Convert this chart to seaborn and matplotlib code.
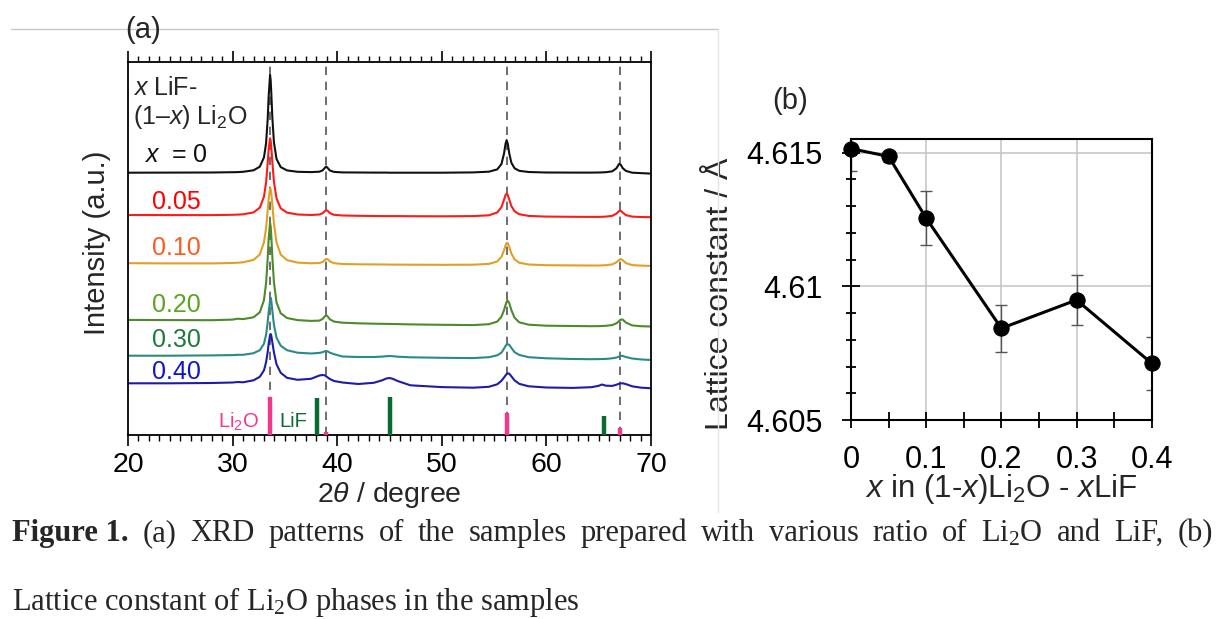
import numpy as np
import pandas as pd
import seaborn as sns
import matplotlib.pyplot as plt
from matplotlib.lines import Line2D
from matplotlib.ticker import MultipleLocator, FixedLocator, NullLocator

# ---- (a) XRD patterns (intensity above each pattern's own baseline, a.u.) ----
TTH = [20, 24, 28, 30, 30.5, 31, 32, 32.6, 33.0, 33.2, 33.35, 33.45, 33.58, 33.64,
       33.7, 33.8, 33.95, 34.2, 34.6, 35.2, 36.2, 37.5, 38.3, 38.6, 38.8, 38.95,
       39.1, 39.3, 39.7, 40.5, 42, 43.5, 44.3, 44.7, 45.0, 45.3, 45.8, 47, 50, 53,
       54.5, 55.3, 55.7, 55.95, 56.1, 56.2, 56.3, 56.45, 56.65, 56.95, 57.4, 58.3,
       60, 62.5, 64.3, 65.0, 65.3, 65.7, 66.3, 66.7, 66.95, 67.1, 67.3, 67.6, 68.2,
       69, 70]

XRD_000 = [0.0, 0.1, 0.2, 0.5, 0.6, 0.9, 2.4, 6.0, 15.3, 29.5,
           52.9, 76.9, 97.7, 92.4, 79.4, 55.1, 30.6, 13.7, 5.6, 2.3,
           0.9, 0.6, 1.0, 2.3, 4.6, 6.2, 4.6, 2.2, 0.8, 0.3,
           0.2, 0.1, 0.1, 0.1, 0.0, 0.0, 0.0, 0.0, 0.0, 0.3,
           1.0, 3.3, 8.6, 19.2, 29.3, 32.6, 29.3, 19.2, 10.0, 4.5,
           1.9, 0.7, 0.2, 0.1, 0.1, 0.2, 0.3, 0.5, 1.4, 4.5,
           8.8, 8.1, 4.5, 1.8, 0.0, -0.4, -0.9]
XRD_005 = [0.0, -0.1, -0.1, 0.2, 0.4, 0.7, 2.6, 7.3, 18.3, 32.6,
           51.4, 66.3, 76.7, 74.2, 67.7, 52.9, 33.6, 16.5, 6.6, 2.4,
           0.5, 0.0, 0.5, 1.7, 3.7, 4.9, 4.0, 1.9, 0.2, -0.5,
           -0.8, -1.0, -1.1, -1.1, -1.1, -1.1, -1.1, -1.2, -1.3, -1.1,
           -0.3, 2.5, 7.9, 15.3, 20.1, 21.3, 20.1, 15.3, 9.0, 3.8,
           0.8, -0.9, -1.6, -1.8, -1.9, -1.9, -1.8, -1.6, -0.8, 1.4,
           4.0, 4.3, 2.4, -0.1, -1.6, -2.0, -2.2]
XRD_010 = [0.1, -0.1, -0.1, 0.3, 0.6, 1.0, 3.4, 8.8, 21.0, 35.2,
           52.1, 64.8, 74.8, 74.2, 70.1, 58.6, 40.3, 20.9, 8.7, 3.2,
           0.7, 0.0, 0.3, 1.3, 3.0, 4.4, 4.0, 1.9, 0.1, -0.7,
           -1.0, -1.1, -1.2, -1.2, -1.3, -1.3, -1.3, -1.4, -1.5, -1.4,
           -0.6, 1.8, 6.4, 13.0, 18.1, 20.3, 20.2, 16.3, 9.8, 4.0,
           0.6, -1.2, -1.9, -2.1, -2.2, -2.2, -2.1, -1.9, -1.1, 1.0,
           3.4, 4.2, 3.0, 0.2, -1.8, -2.3, -2.6]
XRD_020 = [0.1, -0.1, -0.2, 0.4, 1.3, 0.9, 2.7, 7.7, 19.9, 36.8,
           60.9, 81.7, 97.2, 93.4, 83.7, 62.8, 38.0, 17.6, 6.7, 2.0,
           -0.1, -0.9, -0.6, 1.0, 3.5, 4.9, 3.4, 0.7, -1.6, -2.7,
           -3.3, -3.7, -3.8, -3.9, -4.0, -4.0, -4.1, -4.4, -4.8, -5.1,
           -4.2, -1.6, 3.3, 9.9, 15.2, 18.2, 19.4, 16.9, 9.9, 2.4,
           -2.3, -4.7, -5.7, -6.0, -6.2, -6.1, -6.0, -5.8, -5.0, -3.3,
           -1.0, 0.4, 0.4, -2.5, -5.4, -6.2, -6.5]
XRD_030 = [0.0, 0.0, 0.3, 0.6, 0.9, 0.9, 2.5, 5.5, 12.0, 21.0,
           33.0, 44.0, 55.0, 58.0, 55.0, 45.0, 31.0, 18.0, 10.0, 5.5,
           3.0, 2.2, 2.8, 3.5, 4.4, 4.7, 4.2, 3.0, 1.5, -0.8,
           -1.3, -1.3, -0.9, -0.5, -0.3, -0.5, -1.0, -1.6, -2.1, -2.4,
           -1.5, 0.4, 3.0, 7.2, 9.8, 11.2, 11.5, 10.8, 7.8, 3.6,
           0.8, -1.5, -2.6, -3.3, -3.5, -3.4, -3.3, -3.2, -2.6, -1.8,
           -0.9, -0.3, -0.2, -1.3, -2.8, -3.7, -4.3]
XRD_040 = [0.0, 0.0, 0.3, 0.8, 1.3, 1.0, 3.0, 6.5, 13.0, 21.0,
           31.0, 40.0, 48.0, 49.3, 47.5, 41.0, 31.0, 19.0, 10.5, 5.5,
           3.5, 4.5, 7.8, 8.3, 8.0, 7.0, 5.8, 4.3, 2.3, 0.8,
           -0.7, 0.5, 3.0, 4.8, 5.3, 4.5, 2.2, -2.0, -3.8, -4.4,
           -3.5, -1.0, 2.5, 5.8, 8.0, 9.3, 10.0, 9.6, 7.0, 3.0,
           -0.5, -3.0, -4.2, -4.6, -3.9, -2.5, -1.2, -2.4, -2.6, -1.4,
           -0.4, -0.1, 0.0, -0.8, -3.0, -4.3, -5.0]

SAMPLES = ["0", "0.05", "0.10", "0.20", "0.30", "0.40"]
PATTERNS = [XRD_000, XRD_005, XRD_010, XRD_020, XRD_030, XRD_040]

# reference patterns (stick positions / relative heights)
LI2O_POS = [33.6, 38.95, 56.2, 67.05]
LI2O_H = [38, 3.5, 22, 7.5]
LIF_POS = [38.05, 45.0, 65.5]
LIF_H = [37, 38.5, 19]
DASH_POS = [33.6, 38.95, 56.2, 67.0]

# ---- (b) lattice constant ----
X_FRAC = [0, 0.05, 0.1, 0.2, 0.3, 0.4]
LATTICE = [4.61515, 4.61486, 4.61255, 4.60843, 4.60949, 4.60712]
LATTICE_ERR = [0.00085, 0.0002, 0.00100, 0.00089, 0.00094, 0.00100]

CAPTION_1 = ["(a)", "XRD", "patterns", "of", "the", "samples", "prepared", "with",
             "various", "ratio", "of", r"Li$\mathregular{_2}$O", "and", "LiF,", "(b)"]
CAPTION_2 = r"Lattice constant of Li$\mathregular{_2}$O phases in the samples"

# layout / style
OFFSETS = [262.3, 220, 171.7, 115, 79.3, 51.7]
CURVE_COLORS = ["#111111", "#ff1a1a", "#e0a024", "#4c8a2a", "#2a8a86", "#1c1ca8"]
LABEL_COLORS = ["#111111", "#ff0000", "#ff5a1e", "#5aa51e", "#1e7a3c", "#1414c8"]
LABEL_Y = [280, 233.3, 186.7, 130, 95, 63.3]
PINK = "#f0388c"
DKGREEN = "#0a6b32"

sns.set_theme(style="ticks")
plt.rcParams['font.family'] = ['Liberation Sans', 'DejaVu Sans']
plt.rcParams['mathtext.fontset'] = 'custom'
plt.rcParams['mathtext.rm'] = 'Liberation Sans'
plt.rcParams['mathtext.it'] = 'Liberation Sans:italic'

W, H = 1218, 619
fig = plt.figure(figsize=(W / 100, H / 100), dpi=100)
fig.patch.set_facecolor('white')


def box(l, t, r, b):
    return [l / W, 1 - b / H, (r - l) / W, (b - t) / H]


# ================= panel (a) =================
ax = fig.add_axes(box(128, 62, 651, 435))
rows = []
for name, vals, off in zip(SAMPLES, PATTERNS, OFFSETS):
    for t, v in zip(TTH, vals):
        rows.append({"tth": t, "y": v + off, "sample": name})
df = pd.DataFrame(rows)

ax.vlines(DASH_POS, 0, 373, colors="#555555", linestyles=(0, (5, 4)),
          linewidth=1.2, zorder=1)
sns.lineplot(data=df, x="tth", y="y", hue="sample", hue_order=SAMPLES,
             palette=dict(zip(SAMPLES, CURVE_COLORS)), sort=False,
             estimator=None, legend=False, linewidth=1.5, ax=ax, zorder=2)
ax.vlines(LI2O_POS, 0, LI2O_H, colors=PINK, linewidth=3.2, zorder=3)
ax.vlines(LIF_POS, 0, LIF_H, colors=DKGREEN, linewidth=3.2, zorder=3)

ax.set_xlim(20, 70)
ax.set_ylim(0, 373)
ax.xaxis.set_major_locator(MultipleLocator(10))
ax.xaxis.set_minor_locator(MultipleLocator(1))
ax.yaxis.set_major_locator(NullLocator())
ax.tick_params(axis='x', which='both', direction='out', top=True,
               labeltop=False, colors='black', labelsize=20.5, pad=4)
ax.tick_params(axis='x', which='major', length=8, width=1.2)
ax.tick_params(axis='x', which='minor', length=4, width=1.0)
for s in ax.spines.values():
    s.set_color('black')
    s.set_linewidth(1.3)
ax.set_xlabel(r"2$\theta$ / degree", fontsize=20.5, labelpad=2)
ax.set_ylabel("Intensity (a.u.)", fontsize=21, labelpad=12)
ax.yaxis.label.set_y(0.515)

ax.text(20.48, 347, r"$x$ LiF-", fontsize=18, va='center', ha='left')
ax.text(20.48, 318, r"(1–$x$) Li$_2$O", fontsize=18, va='center', ha='left')
ax.text(21.5, LABEL_Y[0], r"$x$  = 0", fontsize=18, va='center', ha='left',
        color=LABEL_COLORS[0])
for lab, ly, c in zip(SAMPLES[1:], LABEL_Y[1:], LABEL_COLORS[1:]):
    ax.text(24.6, ly, lab, fontsize=18, va='center', ha='center', color=c)
ax.text(30.6, 13.3, r"Li$_2$O", fontsize=14.5, va='center', ha='center', color=PINK)
ax.text(35.85, 13.3, "LiF", fontsize=14.5, va='center', ha='center', color=DKGREEN)

# ================= panel (b) =================
bx = fig.add_axes(box(851, 139.3, 1151.7, 420))
bx.errorbar(X_FRAC, LATTICE, yerr=LATTICE_ERR, fmt='none', ecolor='#555555',
            elinewidth=1.0, capsize=4, capthick=1.0, zorder=2)
sns.lineplot(x=X_FRAC, y=LATTICE, color='black', marker='o', markersize=11,
             markeredgecolor='black', linewidth=2.2, ax=bx, zorder=3)
bx.lines[-1].set_clip_on(False)

bx.set_xlim(0, 0.4)
bx.set_ylim(4.605, 4.6155)
bx.xaxis.set_major_locator(FixedLocator([0, 0.1, 0.2, 0.3, 0.4]))
bx.set_xticklabels(["0", "0.1", "0.2", "0.3", "0.4"])
bx.xaxis.set_minor_locator(FixedLocator([0.05, 0.15, 0.25, 0.35]))
bx.yaxis.set_major_locator(FixedLocator([4.605, 4.61, 4.615]))
bx.set_yticklabels(["4.605", "4.61", "4.615"])
bx.yaxis.set_minor_locator(FixedLocator([4.606, 4.607, 4.608, 4.609,
                                         4.611, 4.612, 4.613, 4.614]))
bx.grid(True, which='major', color='#c4c4c4', linewidth=1.1)
bx.set_axisbelow(True)
bx.tick_params(axis='both', which='both', direction='inout', colors='black',
               labelsize=22, width=1.3)
bx.tick_params(axis='y', which='major', length=13, pad=14)
bx.tick_params(axis='y', which='minor', length=6.5)
bx.tick_params(axis='x', which='major', length=12, pad=12)
bx.tick_params(axis='x', which='minor', length=11)
for s in bx.spines.values():
    s.set_color('black')
    s.set_linewidth(1.5)
bx.set_xlabel(r"$x$ in (1-$x$)Li$_2$O - $x$LiF", fontsize=22.5, labelpad=-2)
bx.set_ylabel("Lattice constant / Å", fontsize=23, labelpad=8)
bx.yaxis.label.set_y(0.45)

# ================= labels, page lines, caption =================
fig.text(143 / W, 1 - 30 / H, "(a)", fontsize=21, ha='center', va='center')
fig.text(790 / W, 1 - 101 / H, "(b)", fontsize=21, ha='center', va='center')

fig.add_artist(Line2D([11 / W, 718 / W], [1 - 29 / H, 1 - 29 / H],
                      color='#c8c8c8', linewidth=1.0))
fig.add_artist(Line2D([718 / W, 718 / W], [1 - 29 / H, 1 - 512 / H],
                      color='#e4e4e4', linewidth=1.0))

serif = ['Liberation Serif', 'DejaVu Serif']
cap_fs = 22
renderer = fig.canvas.get_renderer()
head = fig.text(12 / W, 1 - 541 / H, "Figure 1.", fontsize=cap_fs, family=serif,
                fontweight='bold', ha='left', va='baseline')
words = [fig.text(0, 1 - 541 / H, w, fontsize=cap_fs, family=serif,
                  ha='left', va='baseline') for w in CAPTION_1]
# justify the first caption line between x=12 px and x=1213 px
widths = [t.get_window_extent(renderer).width for t in [head] + words]
gap = (1213 - 12 - sum(widths)) / len(words)
xpos = 12 + widths[0]
for t, wdt in zip(words, widths[1:]):
    xpos += gap
    t.set_x(xpos / W)
    xpos += wdt
fig.text(12 / W, 1 - 610 / H, CAPTION_2, fontsize=cap_fs, family=serif,
         ha='left', va='baseline')

fig.savefig("out.png", dpi=100, facecolor='white')
